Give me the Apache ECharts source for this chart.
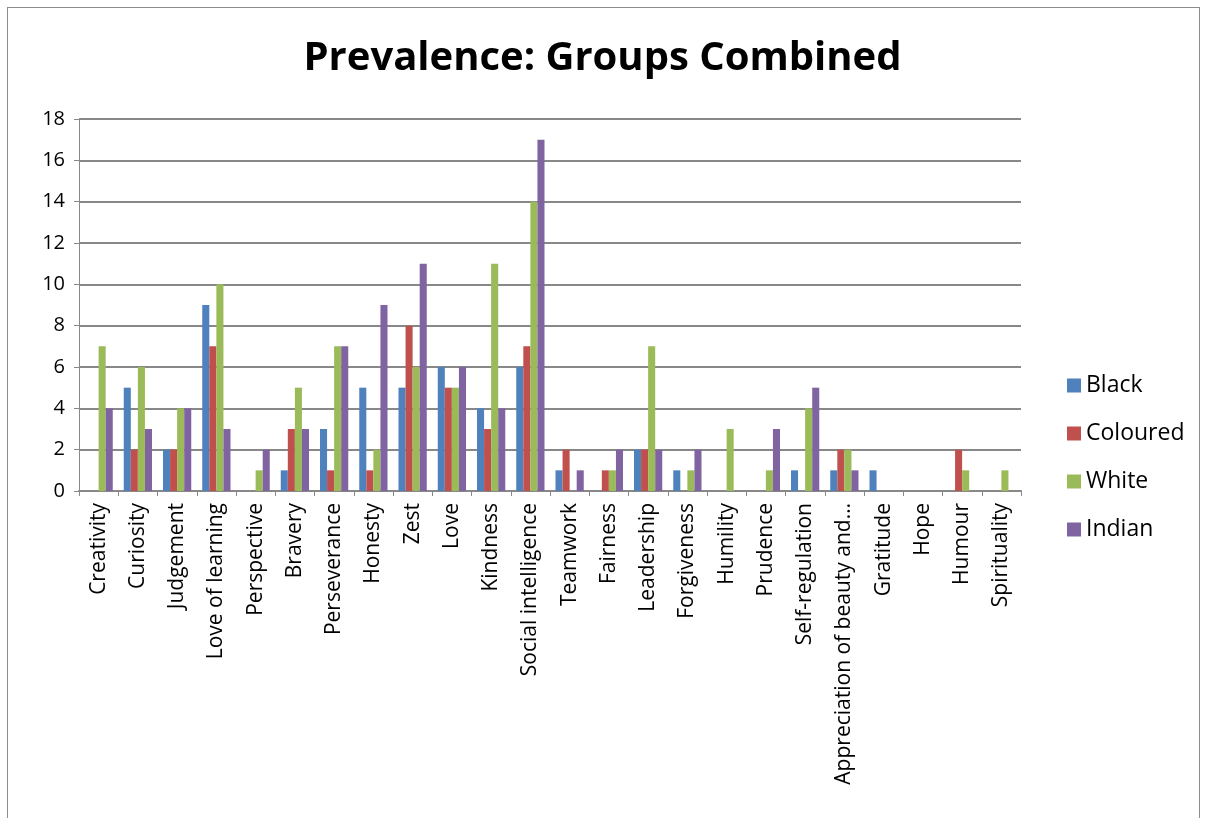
<!DOCTYPE html>
<html>
<head>
<meta charset="utf-8">
<script src="https://cdn.jsdelivr.net/npm/echarts@6/dist/echarts.min.js"></script>
<style>
  html, body { margin: 0; padding: 0; background: #fff; }
  #frame { position: absolute; left: 7px; top: 7px; width: 1193px; height: 820px;
           border: 1px solid #8c8c8c; box-sizing: border-box; }
  #main { position: absolute; left: 0; top: 0; width: 1205px; height: 818px; }
</style>
</head>
<body>
<div id="frame"></div>
<div id="main"></div>
<script>
// 类别与数据
const categories = ['Creativity', 'Curiosity', 'Judgement', 'Love of learning', 'Perspective',
  'Bravery', 'Perseverance', 'Honesty', 'Zest', 'Love', 'Kindness', 'Social intelligence',
  'Teamwork', 'Fairness', 'Leadership', 'Forgiveness', 'Humility', 'Prudence',
  'Self-regulation', 'Appreciation of beauty and\u2026', 'Gratitude', 'Hope', 'Humour', 'Spirituality'];

const black    = [0, 5, 2, 9, 0, 1, 3, 5, 5, 6, 4, 6, 1, 0, 2, 1, 0, 0, 1, 1, 1, 0, 0, 0];
const coloured = [0, 2, 2, 7, 0, 3, 1, 1, 8, 5, 3, 7, 2, 1, 2, 0, 0, 0, 0, 2, 0, 0, 2, 0];
const white    = [7, 6, 4, 10, 1, 5, 7, 2, 6, 5, 11, 14, 0, 1, 7, 1, 3, 1, 4, 2, 0, 0, 1, 1];
const indian   = [4, 3, 4, 3, 2, 3, 7, 9, 11, 6, 4, 17, 1, 2, 2, 2, 0, 3, 5, 1, 0, 0, 0, 0];

const yTicks = [0, 18, 2];  // min, max, interval

const font = '"Open Sans", "Noto Sans", sans-serif';

const chart = echarts.init(document.getElementById('main'));

function bar(name, data, color) {
  return {
    name: name,
    type: 'bar',
    data: data,
    barGap: '0%',
    barCategoryGap: '28%',
    itemStyle: { color: color },
    emphasis: { disabled: true }
  };
}

const option = {
  animation: false,
  title: {
    text: 'Prevalence: Groups Combined',
    left: 'center',
    top: 34,
    textStyle: { fontFamily: font, fontSize: 40, fontWeight: 'bold', color: '#000' }
  },
  legend: {
    orient: 'vertical',
    left: 1062,
    top: 369,
    itemWidth: 14,
    itemHeight: 14,
    itemGap: 25,
    icon: 'rect',
    textStyle: { fontFamily: font, fontSize: 23, color: '#000' }
  },
  grid: {
    left: 79,
    right: 184,
    top: 119,
    bottom: 327,
    containLabel: false
  },
  xAxis: {
    type: 'category',
    data: categories,
    axisLine: { lineStyle: { color: '#888', width: 2 } },
    axisTick: { show: true, interval: 0, length: 5, lineStyle: { color: '#888' } },
    axisLabel: {
      interval: 0,
      rotate: 90,
      margin: 12,
      fontFamily: font,
      fontSize: 21,
      color: '#000'
    }
  },
  yAxis: {
    type: 'value',
    min: yTicks[0],
    max: yTicks[1],
    interval: yTicks[2],
    axisLine: { show: true, lineStyle: { color: '#888', width: 1 } },
    axisTick: { show: true, length: 5, lineStyle: { color: '#888' } },
    splitLine: { lineStyle: { color: '#888', width: 2 } },
    axisLabel: { margin: 14, fontFamily: font, fontSize: 20, color: '#000' }
  },
  series: [
    bar('Black', black, '#4F81BD'),
    bar('Coloured', coloured, '#C0504D'),
    bar('White', white, '#9BBB59'),
    bar('Indian', indian, '#8064A2')
  ]
};

chart.setOption(option);
</script>
</body>
</html>
